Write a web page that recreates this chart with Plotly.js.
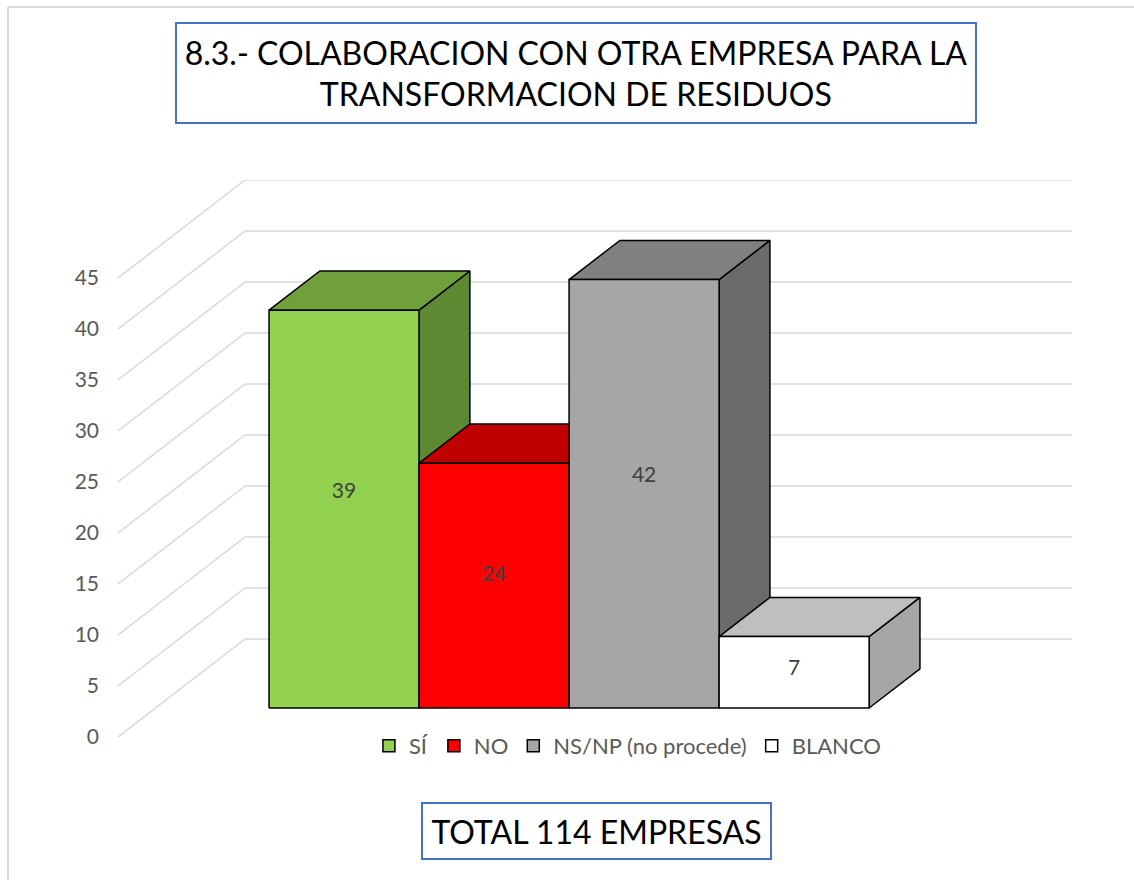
<!DOCTYPE html>
<html>
<head>
<meta charset="utf-8">
<script src="https://cdn.plot.ly/plotly-3.0.1.min.js"></script>
<style>html,body{margin:0;padding:0;background:#fff;}#chart{width:1134px;height:880px;}</style>
</head>
<body>
<div id="chart"></div>
<script>
// ---- data ----
const categories = ["SÍ", "NO", "NS/NP (no procede)", "BLANCO"];
const values = [39, 24, 42, 7];
const tickValues = [0, 5, 10, 15, 20, 25, 30, 35, 40, 45];
const titleText = "8.3.- COLABORACION CON OTRA EMPRESA PARA LA<br>TRANSFORMACION DE RESIDUOS";
const totalText = "TOTAL 114 EMPRESAS";

// ---- style ----
const frontColors = ["#92D050", "#FF0000", "#A6A6A6", "#FFFFFF"];
const topColors   = ["#70A03C", "#C00000", "#808080", "#BFBFBF"];
const sideColors  = ["#5E8933", "#A00000", "#6B6B6B", "#A6A6A6"];
const FONT = "Lato, 'Open Sans', sans-serif";

// 3D projection geometry (in axis units)
const GAP = 0.756;          // floor margin left/right of bar group
const BARW = 1;             // bar width
const FLOORW = GAP * 2 + BARW * categories.length; // front width of floor
const DX = 0.847;           // x shift for full depth
const DY = 9.608;           // y shift for full depth (value units)
const D0 = 0.296, D1 = 0.696; // bar front/back depth fractions
const YMAX = 45;

function P(u, v, d) { return [u + d * DX, v + d * DY]; }
function poly(pts) {
  const xs = pts.map(p => p[0]), ys = pts.map(p => p[1]);
  xs.push(xs[0]); ys.push(ys[0]);
  return {x: xs, y: ys};
}

const traces = [];

// gridlines: left wall diagonals + back wall horizontals
const gx = [], gy = [];
tickValues.forEach(v => {
  const a = P(0, v, 0), b = P(0, v, 1), c = P(FLOORW, v, 1);
  gx.push(a[0], b[0], c[0], null);
  gy.push(a[1], b[1], c[1], null);
});
traces.push({type: "scatter", mode: "lines", x: gx, y: gy, hoverinfo: "skip",
  line: {color: "#D9D9D9", width: 1.5}, showlegend: false});

// bars: left to right
values.forEach((v, i) => {
  const x0 = GAP + i * BARW, x1 = x0 + BARW;
  const faces = [
    {pts: [P(x1, 0, D0), P(x1, 0, D1), P(x1, v, D1), P(x1, v, D0)], c: sideColors[i]},
    {pts: [P(x0, v, D0), P(x1, v, D0), P(x1, v, D1), P(x0, v, D1)], c: topColors[i]},
    {pts: [P(x0, 0, D0), P(x1, 0, D0), P(x1, v, D0), P(x0, v, D0)], c: frontColors[i]}
  ];
  faces.forEach(f => {
    const p = poly(f.pts);
    traces.push({type: "scatter", mode: "lines", x: p.x, y: p.y, fill: "toself",
      fillcolor: f.c, line: {color: "#000000", width: 1.5}, hoverinfo: "skip",
      showlegend: false});
  });
});

// value labels
const lx = [], ly = [], lt = [];
values.forEach((v, i) => {
  const p = P(GAP + i * BARW + BARW / 2, v * 0.54, D0);
  lx.push(p[0]); ly.push(p[1]); lt.push(String(v));
});
traces.push({type: "scatter", mode: "text", x: lx, y: ly, text: lt, hoverinfo: "skip",
  textfont: {family: FONT, size: 21, color: "#404040"}, showlegend: false});

// legend entries
categories.forEach((c, i) => {
  traces.push({type: "bar", name: c, x: [null], y: [null],
    marker: {color: frontColors[i], line: {color: "#000000", width: 1.5}}});
});

const layout = {
  width: 1134, height: 880,
  margin: {l: 118, r: 62, t: 180, b: 143},
  paper_bgcolor: "#FFFFFF", plot_bgcolor: "rgba(0,0,0,0)",
  font: {family: FONT, color: "#595959"},
  xaxis: {range: [0, FLOORW + DX], visible: false, fixedrange: true},
  yaxis: {range: [0, YMAX + DY], tickvals: tickValues, ticktext: tickValues.map(String),
    showgrid: false, zeroline: false, showline: false, ticks: "", ticklabelstandoff: 18,
    tickfont: {family: FONT, size: 21, color: "#595959"}, fixedrange: true},
  showlegend: true,
  legend: {orientation: "h", x: 0.534, xanchor: "center", y: -0.016, yanchor: "middle",
    font: {family: FONT, size: 22, color: "#595959"}, itemclick: false, traceorder: "normal"},
  annotations: [
    {text: titleText, xref: "paper", yref: "paper", x: 0.4796, y: 1.192,
      xanchor: "center", yanchor: "middle", showarrow: false,
      font: {family: FONT, size: 32, color: "#000000"},
      bordercolor: "#4472C4", borderwidth: 2, borderpad: 4, bgcolor: "#FFFFFF",
      width: 790, height: 90},
    {text: totalText, xref: "paper", yref: "paper", x: 0.5016, y: -0.168,
      xanchor: "center", yanchor: "middle", showarrow: false,
      font: {family: FONT, size: 32, color: "#000000"},
      bordercolor: "#4472C4", borderwidth: 2, borderpad: 4, bgcolor: "#FFFFFF",
      width: 339, height: 46}
  ],
  shapes: [
    {type: "line", xref: "paper", yref: "paper", x0: -0.1153, x1: -0.1153, y0: 1.3106, y1: -0.4,
      line: {color: "#D9D9D9", width: 2}},
    {type: "line", xref: "paper", yref: "paper", x0: -0.1153, x1: 1.2, y0: 1.3106, y1: 1.3106,
      line: {color: "#D9D9D9", width: 2}}
  ]
};

Plotly.newPlot("chart", traces, layout, {displayModeBar: false, staticPlot: true});
</script>
</body>
</html>
